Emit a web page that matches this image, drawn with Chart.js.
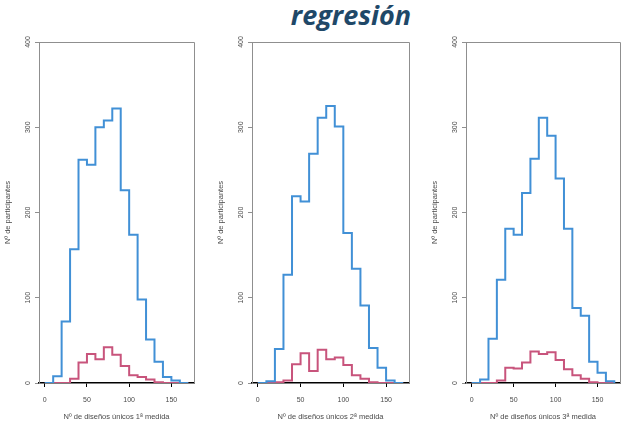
<!DOCTYPE html>
<html>
<head>
<meta charset="utf-8">
<script src="https://cdn.jsdelivr.net/npm/chart.js@4.4.0/dist/chart.umd.min.js"></script>
<style>
    body { margin: 0; background: #fff; width: 626px; height: 429px; overflow: hidden; position: relative; }
    .panel { position: absolute; top: 0; height: 429px; }
    #titulo {
        position: absolute; left: 251px; top: -4px; width: 200px; text-align: center;
        font-family: "Open Sans", "Noto Sans", sans-serif; font-weight: bold; font-style: italic;
        font-size: 27px; color: #1f4868;
    }
</style>
</head>
<body>
<div id="titulo">regresión</div>
<canvas id="c1" class="panel"></canvas>
<canvas id="c2" class="panel"></canvas>
<canvas id="c3" class="panel"></canvas>
<script>
// ================================================================
// DATA
// ================================================================

// bin edges, width 10
const BIN_EDGES = [0, 10, 20, 30, 40, 50, 60, 70, 80, 90, 100, 110, 120, 130, 140, 150, 160, 170];
const X_TICKS = [0, 50, 100, 150];
const Y_TICKS = [0, 100, 200, 300, 400];

// counts per bin (0-10, 10-20, ... 160-170)
const AZUL_1 = [0, 8, 72, 157, 262, 256, 300, 308, 322, 226, 174, 98, 51, 25, 7, 3, 0];
const ROSA_1 = [0, 0, 0, 5, 24, 34, 28, 42, 33, 20, 9, 7, 4, 1, 0, 0, 0];
const AZUL_2 = [0, 2, 40, 127, 219, 213, 269, 311, 325, 301, 176, 134, 91, 41, 18, 3, 0];
const ROSA_2 = [0, 0, 1, 3, 22, 35, 14, 39, 28, 30, 21, 9, 5, 1, 0, 0, 0];
const AZUL_3 = [0, 4, 52, 121, 181, 174, 223, 263, 311, 290, 240, 181, 88, 79, 25, 12, 2];
const ROSA_3 = [0, 0, 0, 3, 18, 17, 24, 37, 34, 36, 27, 16, 9, 5, 1, 0, 0];

const X_TITLES = [
    'Nº de diseños únicos 1ª medida',
    'Nº de diseños únicos 2ª medida',
    'Nº de diseños únicos 3ª medida'
];
const Y_TITLE = 'Nº de participantes';

// ================================================================
// LAYOUT
// ================================================================

const PLOT_LEFT = [39, 252, 466];
const PLOT_RIGHT = [194, 409, 620];
const PLOT_TOP = 42;
const PLOT_BOTTOM = 383;
const Y_AXIS_W = 38;
const FONT_FAMILY = '"Liberation Sans", Arial, sans-serif';

const COLORS = {
    azul: '#4190d6',
    rosa: '#c8547c',
    frame: '#8f8f8f',
    text: '#4a4a4a'
};

// histogram outline as step points at the bin edges
function stepPoints(counts) {
    return BIN_EDGES.map((e, i) => ({ x: e, y: i < counts.length ? counts[i] : 0 }));
}

// top and right sides of the box + vertical (R style) y tick labels
const framePlugin = {
    id: 'frame',
    afterDraw(chart) {
        const { ctx, chartArea: a } = chart;
        const yScale = chart.scales.y;
        ctx.save();
        ctx.strokeStyle = COLORS.frame;
        ctx.lineWidth = 1;
        ctx.beginPath();
        ctx.moveTo(a.left, a.top + 0.5);
        ctx.lineTo(a.right + 0.5, a.top + 0.5);
        ctx.lineTo(a.right + 0.5, a.bottom);
        ctx.stroke();

        ctx.fillStyle = COLORS.text;
        ctx.font = '7px ' + FONT_FAMILY;
        ctx.textAlign = 'center';
        ctx.textBaseline = 'middle';
        Y_TICKS.forEach(v => {
            const py = yScale.getPixelForValue(v);
            ctx.save();
            ctx.translate(a.left - 11, py);
            ctx.rotate(-Math.PI / 2);
            ctx.fillText(String(v), 0, 0);
            ctx.restore();
        });
        ctx.restore();
    }
};

function createPanel(idx, azul, rosa) {
    const canvas = document.getElementById('c' + (idx + 1));
    const left = PLOT_LEFT[idx] - Y_AXIS_W;
    const width = PLOT_RIGHT[idx] + 7 - left;
    canvas.style.left = left + 'px';
    canvas.width = width;
    canvas.height = 429;
    canvas.style.width = width + 'px';

    const tickFont = { family: FONT_FAMILY, size: 7 };
    const titleFont = { family: FONT_FAMILY, size: 7.5 };

    return new Chart(canvas.getContext('2d'), {
        type: 'line',
        data: {
            datasets: [
                { data: stepPoints(azul), borderColor: COLORS.azul },
                { data: stepPoints(rosa), borderColor: COLORS.rosa }
            ]
        },
        options: {
            responsive: false,
            animation: false,
            layout: { padding: { top: PLOT_TOP, right: 7, left: 0, bottom: 0 } },
            elements: {
                line: { stepped: true, borderWidth: 2, fill: false, tension: 0 },
                point: { radius: 0 }
            },
            plugins: {
                legend: { display: false },
                tooltip: { enabled: false }
            },
            scales: {
                x: {
                    type: 'linear',
                    min: -6.8,
                    max: 176.8,
                    z: 1,
                    afterBuildTicks: s => { s.ticks = X_TICKS.map(v => ({ value: v })); },
                    afterFit: s => { s.height = 429 - PLOT_BOTTOM; },
                    border: { color: '#000', width: 1.5 },
                    grid: { drawOnChartArea: false, drawTicks: true, tickLength: 4, color: '#000', tickWidth: 1 },
                    ticks: { font: tickFont, color: COLORS.text, padding: 9, maxRotation: 0 },
                    title: { display: true, text: X_TITLES[idx], font: titleFont, color: COLORS.text, padding: { top: 0, bottom: 7.5 } }
                },
                y: {
                    type: 'linear',
                    min: 0,
                    max: 400,
                    afterBuildTicks: s => { s.ticks = Y_TICKS.map(v => ({ value: v })); },
                    afterFit: s => { s.width = Y_AXIS_W; },
                    border: { color: COLORS.frame, width: 1 },
                    grid: { drawOnChartArea: false, drawTicks: true, tickLength: 4, color: COLORS.frame },
                    ticks: { display: false },
                    title: { display: true, text: Y_TITLE, font: titleFont, color: COLORS.text, padding: { top: 2.5, bottom: 0 } }
                }
            }
        },
        plugins: [framePlugin]
    });
}

createPanel(0, AZUL_1, ROSA_1);
createPanel(1, AZUL_2, ROSA_2);
createPanel(2, AZUL_3, ROSA_3);
</script>
</body>
</html>
